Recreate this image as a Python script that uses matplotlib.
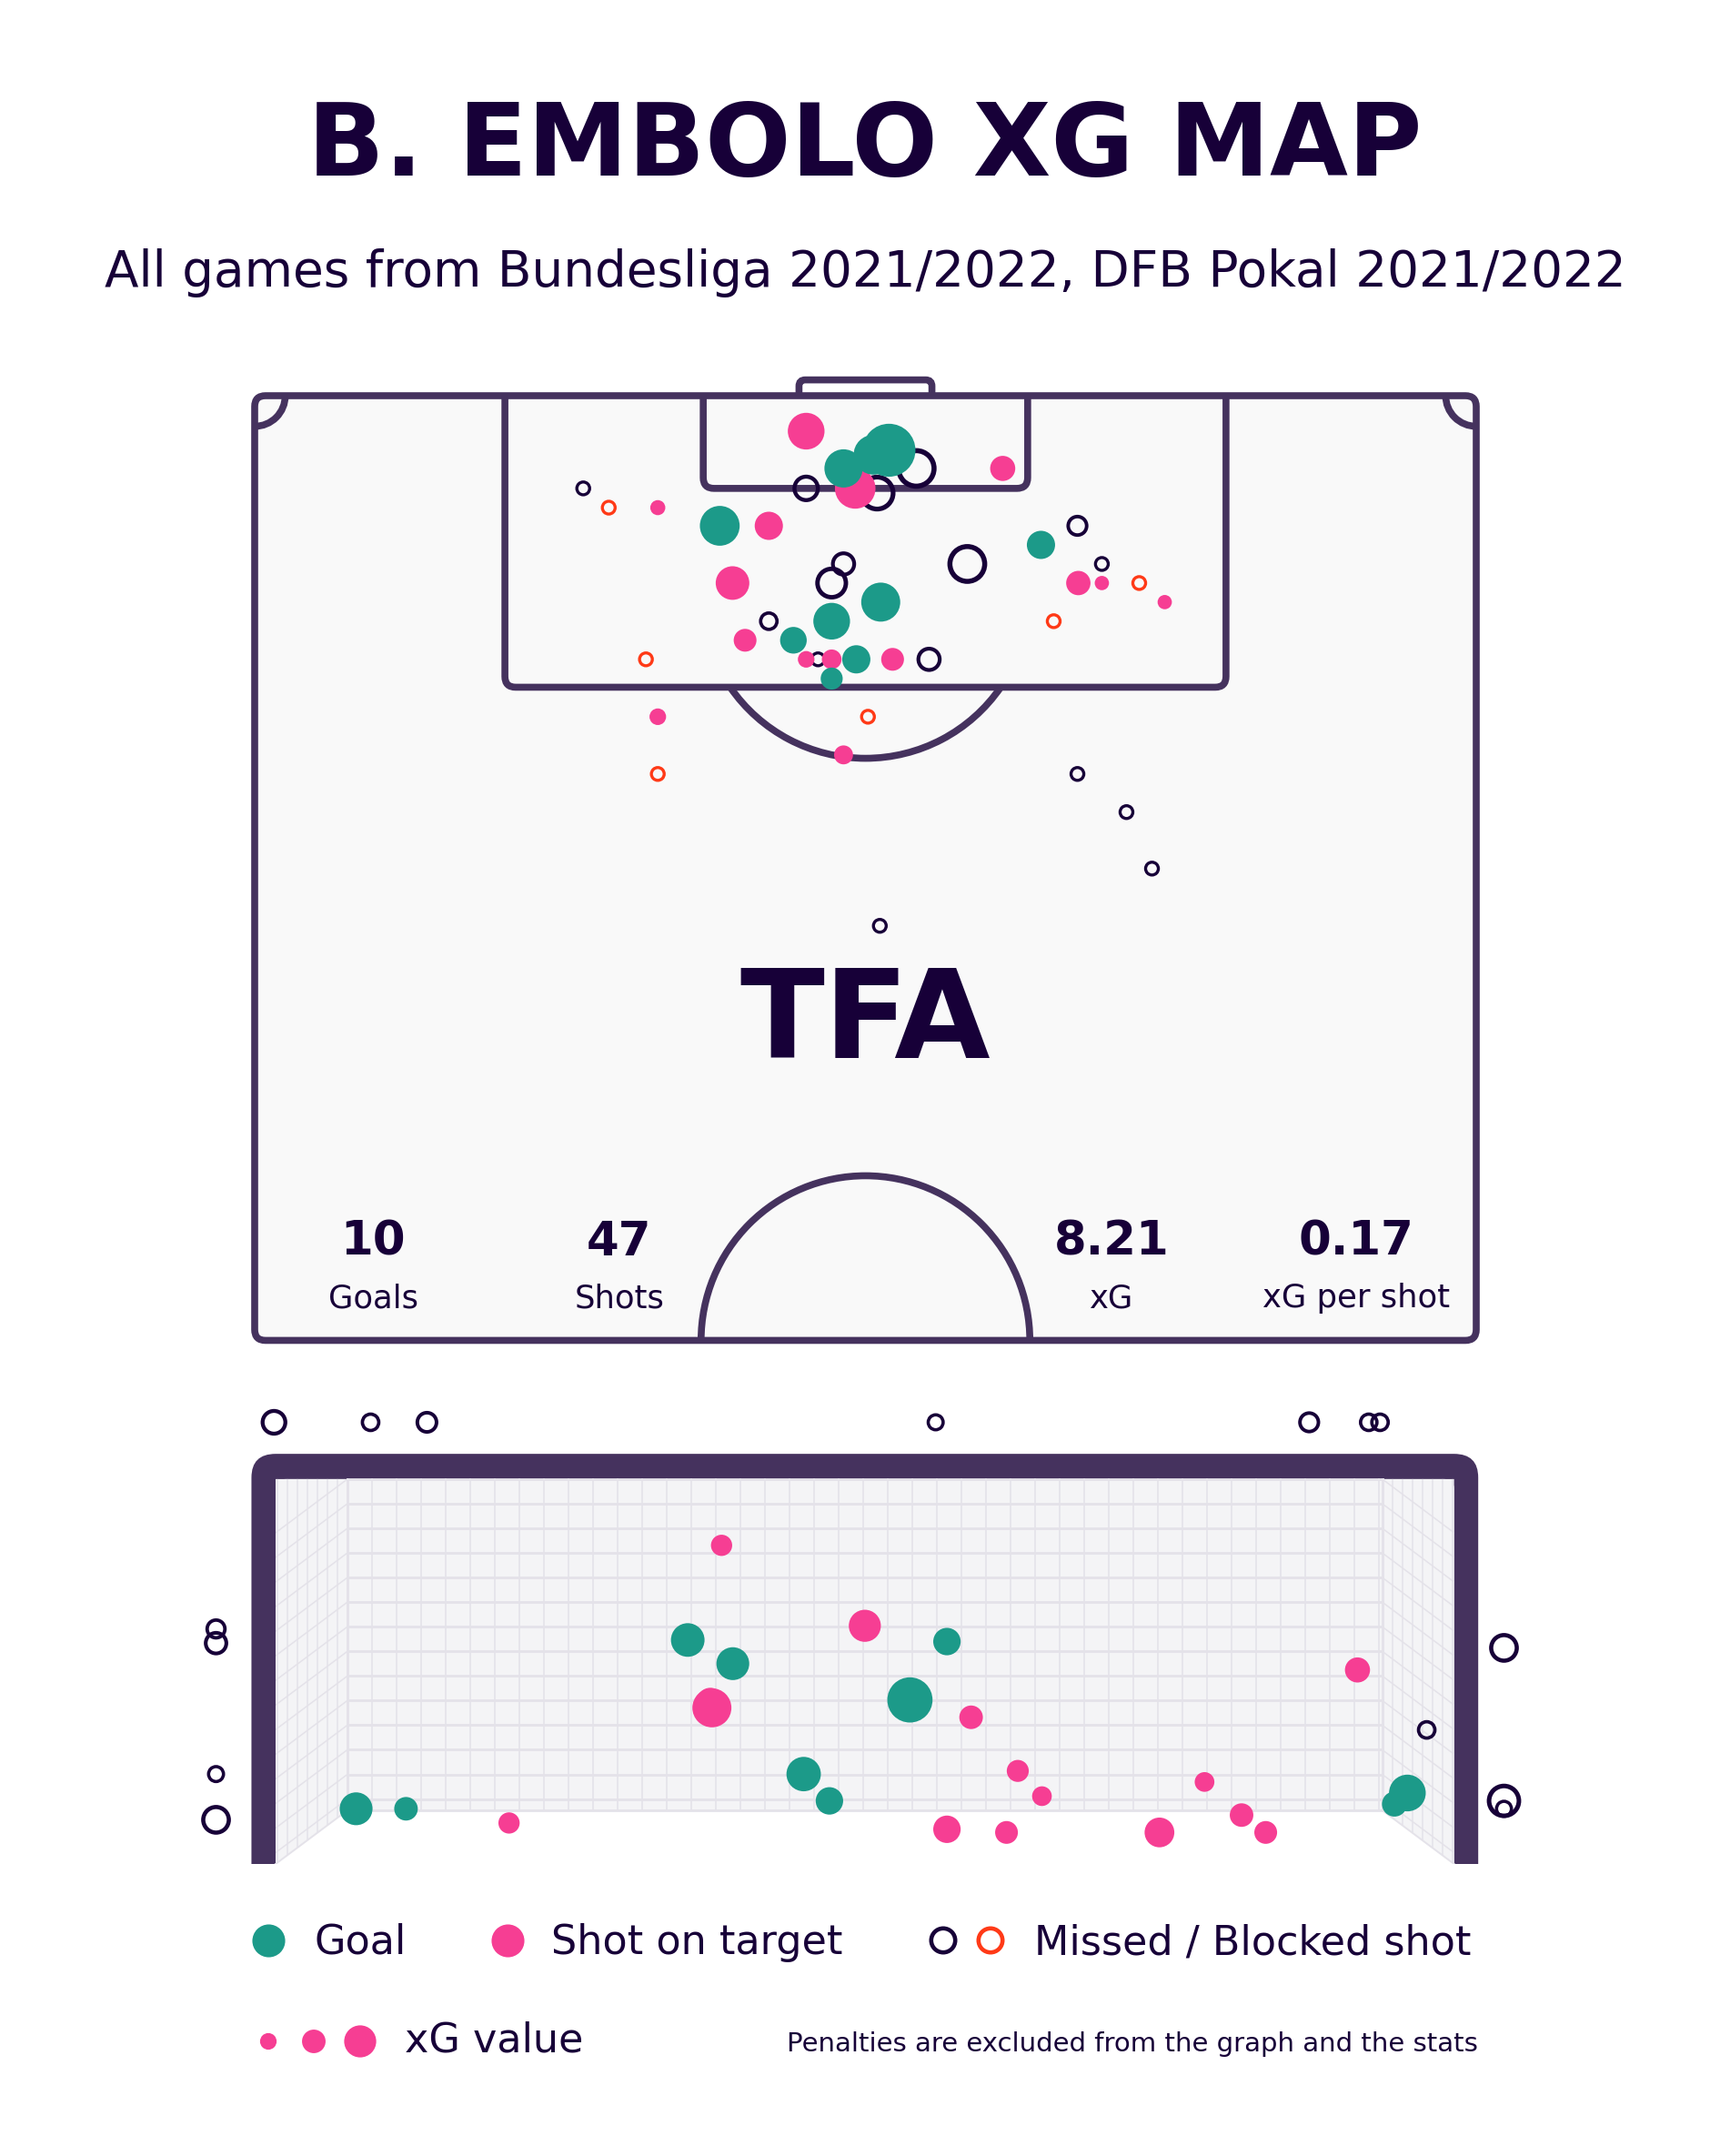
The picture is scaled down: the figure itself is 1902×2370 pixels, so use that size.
"""Shot map (pitch + goal mouth view) for B. Embolo, rendered to out.png."""

import matplotlib
matplotlib.use("Agg")
import matplotlib.pyplot as plt
import numpy as np
from matplotlib.patches import Arc, FancyBboxPatch, Polygon

W, H, DPI = 1902, 2370, 100

NAVY = "#170038"
LINE = "#45325e"
TEAL = "#1c9a89"
PINK = "#f63e93"
RED = "#ff3a17"
PITCH_BG = "#f9f9f9"
NET_BG = "#f4f4f6"
NET_LINE = "#e4e2e9"

# shots on the pitch: metres across (0-68) and from the goal line
shot_x = [30.70, 35.31, 34.45, 32.78, 36.83, 33.43, 34.65, 30.70, 41.64, 18.29,
          19.71, 22.44, 25.89, 28.62, 45.80, 43.77, 32.78, 39.67, 47.16, 26.60,
          32.12, 45.85, 47.16, 49.24, 34.85, 50.66, 28.62, 32.12, 44.48, 27.30,
          29.99, 21.78, 30.70, 31.36, 32.12, 33.49, 35.51, 37.54, 32.12, 22.44,
          34.14, 32.78, 22.44, 45.80, 48.53, 49.95, 34.80]
shot_y = [1.97, 3.03, 3.28, 4.04, 4.04, 5.15, 5.41, 5.15, 4.04, 5.15,
          6.22, 6.22, 7.23, 7.23, 7.23, 8.29, 9.35, 9.35, 9.35, 10.41,
          10.41, 10.41, 10.41, 10.41, 11.47, 11.47, 12.53, 12.53, 12.53, 13.59,
          13.59, 14.65, 14.65, 14.65, 14.65, 14.65, 14.65, 14.65, 15.72, 17.84,
          17.84, 19.96, 21.02, 21.02, 23.14, 26.28, 29.46]
shot_xg = [0.31, 0.52, 0.35, 0.33, 0.36, 0.36, 0.31, 0.19, 0.16, 0.04,
           0.04, 0.03, 0.35, 0.20, 0.12, 0.20, 0.16, 0.35, 0.04, 0.27,
           0.26, 0.15, 0.02, 0.04, 0.34, 0.02, 0.09, 0.31, 0.04, 0.13,
           0.18, 0.04, 0.05, 0.04, 0.09, 0.20, 0.13, 0.16, 0.12, 0.05,
           0.04, 0.08, 0.04, 0.04, 0.04, 0.04, 0.04]
shot_kind = ["on", "goal", "goal", "goal", "miss", "on", "miss", "miss", "on", "miss",
             "block", "on", "goal", "on", "miss", "goal", "miss", "miss", "miss", "on",
             "miss", "on", "on", "block", "goal", "on", "miss", "goal", "block", "on",
             "goal", "block", "on", "miss", "on", "goal", "on", "miss", "goal", "on",
             "block", "on", "block", "miss", "miss", "miss", "miss"]

# shots in the goal-mouth view: metres from left post and from the ground
goal_x = [2.56, 2.84, 4.17, 3.94, 3.28, 3.44, 0.50, 0.81, 7.03, 6.95,
          2.77, 3.66, 2.71, 2.70, 4.32, 6.72, 4.61, 4.76, 5.77, 1.45,
          4.17, 4.54, 5.49, 6.00, 6.15,
          -0.01, 0.59, 0.94, 4.10, 6.42, 6.79, 6.86,
          -0.37, -0.37, -0.37, -0.37, 7.63, 7.63, 7.63, 7.15]
goal_z = [1.42, 1.27, 1.41, 1.04, 0.57, 0.40, 0.35, 0.35, 0.45, 0.38,
          2.02, 1.51, 0.99, 1.03, 0.93, 1.23, 0.59, 0.43, 0.52, 0.26,
          0.22, 0.20, 0.20, 0.31, 0.20,
          2.80, 2.80, 2.80, 2.80, 2.80, 2.80, 2.80,
          1.49, 1.40, 0.57, 0.28, 1.37, 0.40, 0.35, 0.85]
goal_xg = [0.27, 0.26, 0.19, 0.42, 0.28, 0.19, 0.26, 0.14, 0.31, 0.16,
           0.11, 0.25, 0.34, 0.19, 0.14, 0.16, 0.12, 0.09, 0.09, 0.11,
           0.19, 0.13, 0.22, 0.14, 0.13,
           0.18, 0.09, 0.13, 0.07, 0.12, 0.09, 0.09,
           0.11, 0.15, 0.07, 0.22, 0.22, 0.28, 0.07, 0.09]
goal_kind = ["goal"] * 10 + ["on"] * 15 + ["miss"] * 15

stat_values = ["10", "47", "8.21", "0.17"]
stat_labels = ["Goals", "Shots", "xG", "xG per shot"]
legend_xg = [0.05, 0.14, 0.25]

STYLE = {"miss": (NAVY, False), "block": (RED, False), "on": (PINK, True), "goal": (TEAL, True)}


def marker_area(xg, lw=0.0):
    d = (14 + 85 * xg) * 72 / DPI - lw
    return d ** 2


def ring_lw(xg):
    return 2.2 + 5 * xg


def draw_shots(ax, xs, ys, xgs, kinds, z0=10):
    for i, kind in enumerate(["miss", "block", "on", "goal"]):
        idx = [j for j, k in enumerate(kinds) if k == kind]
        if not idx:
            continue
        color, filled = STYLE[kind]
        px = [xs[j] for j in idx]
        py = [ys[j] for j in idx]
        if filled:
            ax.scatter(px, py, s=[marker_area(xgs[j]) for j in idx], c=color,
                       lw=0, zorder=z0 + i)
        else:
            lws = [ring_lw(xgs[j]) for j in idx]
            ax.scatter(px, py, s=[marker_area(xgs[j], lw) for j, lw in zip(idx, lws)],
                       facecolors="none", edgecolors=color, linewidths=lws, zorder=z0 + i)


def px_axes(fig, top, bottom):
    ax = fig.add_axes([0, 1 - bottom / H, 1, (bottom - top) / H])
    ax.set_axis_off()
    return ax


fig = plt.figure(figsize=(W / DPI, H / DPI), dpi=DPI)
fig.patch.set_facecolor("white")

fig.text(0.5, 1 - 193 / H, "B. EMBOLO XG MAP", ha="center", va="baseline",
         fontsize=80, fontweight="bold", color=NAVY)
fig.text(0.5, 1 - 315 / H, "All games from Bundesliga 2021/2022, DFB Pokal 2021/2022",
         ha="center", va="baseline", fontsize=39.5, color=NAVY)

# ---- pitch (half, attacking upwards) ----
PL, PT, SX, SY = 280, 435, 19.75, 19.78
LW = 5.5
ax = px_axes(fig, 380, 1500)
ax.set_xlim(-PL / SX, (W - PL) / SX)
ax.set_ylim((1500 - PT) / SY, (380 - PT) / SY)

outer = FancyBboxPatch((0, 0), 68, 52.5, boxstyle="round,pad=0,rounding_size=0.6",
                       fc=PITCH_BG, ec=LINE, lw=LW, zorder=2)
ax.add_patch(outer)
ax.add_patch(FancyBboxPatch((30.3, -0.88), 7.4, 1.6, boxstyle="round,pad=0,rounding_size=0.35",
                            fc="white", ec=LINE, lw=LW, zorder=1))
for x0, w, depth in [(13.93, 40.14, 16.2), (24.97, 18.06, 5.15)]:
    box = FancyBboxPatch((x0, -1.5), w, depth + 1.5, boxstyle="round,pad=0,rounding_size=0.6",
                         fc="none", ec=LINE, lw=LW, zorder=3)
    ax.add_patch(box)
    box.set_clip_path(outer)
ax.add_patch(Arc((0, 0), 3.4, 3.4, theta1=0, theta2=90, color=LINE, lw=LW, zorder=3))
ax.add_patch(Arc((68, 0), 3.4, 3.4, theta1=90, theta2=180, color=LINE, lw=LW, zorder=3))
ax.add_patch(Arc((34, 11), 18.3, 18.3, theta1=34.6, theta2=145.4, color=LINE, lw=LW, zorder=3))
cc = Arc((34, 52.5), 18.3, 18.3, theta1=180, theta2=360, color=LINE, lw=LW, zorder=3)
ax.add_patch(cc)
cc.set_clip_path(outer)

ax.text(34, (1163 - PT) / SY, "TFA", ha="center", va="baseline", fontsize=98,
        fontweight="heavy", color=NAVY, zorder=4)
for xm, v, lab in zip([6.6, 20.3, 47.7, 61.3], stat_values, stat_labels):
    ax.text(xm, (1380 - PT) / SY, v, ha="center", va="baseline", fontsize=37,
            fontweight="bold", color=NAVY, zorder=4)
    ax.text(xm, (1437 - PT) / SY, lab, ha="center", va="baseline", fontsize=25.5,
            color=NAVY, zorder=4)

draw_shots(ax, shot_x, shot_y, shot_xg, shot_kind)

# ---- goal mouth ----
GL, GG, GX, GZ = 303, 2049, 177.0, 173.4
GW, GH = 7.32, 2.44
gax = px_axes(fig, 1520, GG)
gax.set_xlim(-GL / GX, (W - GL) / GX)
gax.set_ylim(0, (GG - 1520) / GZ)

post, bar = 0.15, 0.16
gax.add_patch(FancyBboxPatch((-post, -1), GW + 2 * post, GH + bar + 1,
                             boxstyle="round,pad=0,rounding_size=0.15", fc=LINE, ec="none", zorder=1))
gax.add_patch(FancyBboxPatch((0, -1), GW, GH + 1,
                             boxstyle="round,pad=0,rounding_size=0.06", fc="white", ec="none", zorder=2))

bx0, bx1, bz0, drop = 0.446, GW - 0.446, 0.34, 0.34
back = Polygon([(bx0, bz0), (bx1, bz0), (bx1, GH), (bx0, GH)], fc=NET_BG, ec="none", zorder=3)
left = Polygon([(0, 0), (bx0, bz0), (bx0, GH), (0, GH)], fc=NET_BG, ec="none", zorder=3)
right = Polygon([(GW, 0), (bx1, bz0), (bx1, GH), (GW, GH)], fc=NET_BG, ec="none", zorder=3)
for p in (back, left, right):
    gax.add_patch(p)

rows = np.arange(GH, bz0 - 0.01, -0.156)
cols = np.arange(bx0, bx1 + 0.01, 0.1525)
for z in rows:
    gax.plot([bx0, bx1], [z, z], color=NET_LINE, lw=2.0, zorder=4)
    for side, xa, xb in ((left, bx0, 0), (right, bx1, GW)):
        ln, = gax.plot([xa, xb], [z, z - drop], color=NET_LINE, lw=1.1, zorder=4)
        ln.set_clip_path(side)
for x in cols:
    gax.plot([x, x], [bz0, GH], color=NET_LINE, lw=1.2, zorder=4)
for k in range(1, 8):
    for side, x in ((left, bx0 - k * 0.062), (right, bx1 + k * 0.062)):
        ln, = gax.plot([x, x], [0, GH], color=NET_LINE, lw=1.1, zorder=4)
        ln.set_clip_path(side)
gax.plot([bx0, bx0, bx1, bx1], [GH, bz0, bz0, GH], color=NET_LINE, lw=2.0, zorder=4)
gax.plot([0, bx0], [0, bz0], color=NET_LINE, lw=1.4, zorder=4)
gax.plot([GW, bx1], [0, bz0], color=NET_LINE, lw=1.4, zorder=4)

draw_shots(gax, goal_x, goal_z, goal_xg, goal_kind)

# ---- legend ----
lax = px_axes(fig, 2080, H)
lax.set_xlim(0, W)
lax.set_ylim(H, 2080)
lax.scatter([295], [2133], s=marker_area(0.26), c=TEAL, lw=0)
lax.scatter([558], [2133], s=marker_area(0.26), c=PINK, lw=0)
lax.scatter([1037, 1089], [2133, 2133], s=marker_area(0.2, 3.3), facecolors="none",
            edgecolors=[NAVY, RED], linewidths=3.3)
lax.scatter([295, 345, 396], [2244] * 3, s=[marker_area(v) for v in legend_xg], c=PINK, lw=0)
for x, t in [(345, "Goal"), (606, "Shot on target"), (1137, "Missed / Blocked shot")]:
    lax.text(x, 2148, t, ha="left", va="baseline", fontsize=32, color=NAVY)
lax.text(445, 2255, "xG value", ha="left", va="baseline", fontsize=32, color=NAVY)
lax.text(1625, 2255, "Penalties are excluded from the graph and the stats", ha="right",
         va="baseline", fontsize=21, color=NAVY)

fig.savefig("out.png", dpi=DPI, facecolor="white")
